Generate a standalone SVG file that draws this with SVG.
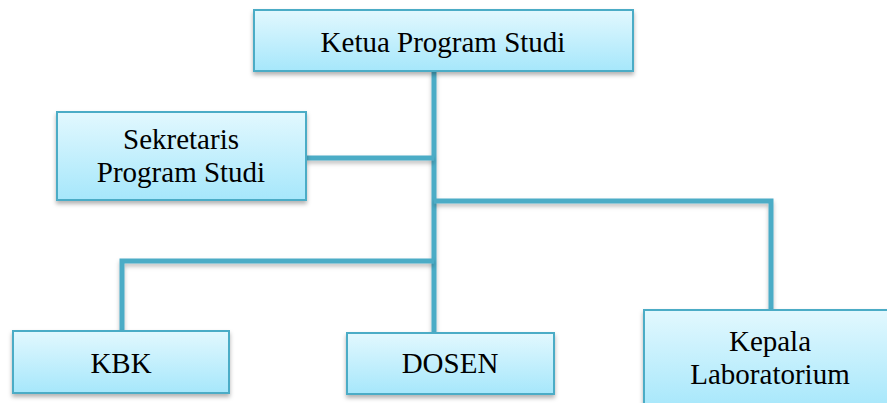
<svg xmlns="http://www.w3.org/2000/svg" width="887" height="403" viewBox="0 0 887 403">
<defs>
<linearGradient id="g" x1="0" y1="0" x2="0" y2="1">
<stop offset="0" stop-color="#E2F8FE"/>
<stop offset="1" stop-color="#A6E7FB"/>
</linearGradient>
<filter id="sh" x="-10%" y="-10%" width="120%" height="130%">
<feDropShadow dx="0" dy="3" stdDeviation="2" flood-color="#000" flood-opacity="0.3"/>
</filter>
<filter id="shl" filterUnits="userSpaceOnUse" x="0" y="0" width="887" height="403">
<feDropShadow dx="0" dy="3" stdDeviation="2" flood-color="#000" flood-opacity="0.25"/>
</filter>
</defs>
<style>
.box{fill:url(#g);stroke:#4BACC6;stroke-width:2;filter:url(#sh)}
.t{font-family:"Liberation Serif","Times New Roman",serif;font-size:29px;fill:#000;text-anchor:middle}
.c{fill:none;stroke:#4BACC6;stroke-width:5;filter:url(#shl)}
</style>
<rect width="887" height="403" fill="#fff"/>
<g id="connectors">
<path class="c" d="M434 71V333"/>
<path class="c" d="M306 158H434"/>
<path class="c" d="M434 201H771V310"/>
<path class="c" d="M434 261H122V331"/>
</g>
<g id="ketua">
<rect class="box" x="254" y="10" width="379" height="61"/>
<text class="t" x="443" y="52">Ketua Program Studi</text>
</g>
<g id="sekretaris">
<rect class="box" x="57" y="112" width="249" height="88"/>
<text class="t" x="181" y="149">Sekretaris</text>
<text class="t" x="181" y="182">Program Studi</text>
</g>
<g id="kbk">
<rect class="box" x="13" y="331" width="216" height="62"/>
<text class="t" x="121" y="373">KBK</text>
</g>
<g id="dosen">
<rect class="box" x="347" y="333" width="207" height="61"/>
<text class="t" x="450" y="373">DOSEN</text>
</g>
<g id="kepala">
<rect class="box" x="644" y="310" width="252" height="100"/>
<text class="t" x="770" y="351">Kepala</text>
<text class="t" x="770" y="384">Laboratorium</text>
</g>
</svg>
